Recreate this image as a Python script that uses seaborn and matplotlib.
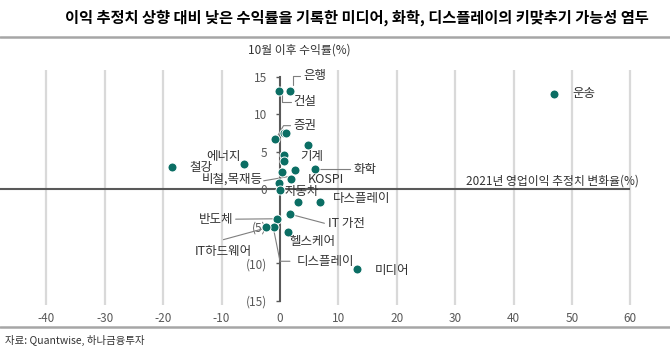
import matplotlib.pyplot as plt
import pandas as pd
import seaborn as sns

# point values: x = 2021 OP estimate change (%), y = return since Oct (%)
X_CHG = [-0.1, 1.7, -0.9, 0.6, 1.0, 4.8, 0.6, 0.6, -6.1, -18.5, 0.4, 2.6, 6.0,
         1.9, -0.1, 0.0, 3.1, 6.9, 1.7, -0.6, -1.1, -2.4, 1.4, 13.2, 47.0]
Y_RET = [13.15, 13.15, 6.7, 7.55, 7.55, 5.9, 4.6, 3.8, 3.4, 2.9, 2.3, 2.5, 2.7,
         1.4, 0.85, -0.2, -1.8, -1.7, -3.3, -4.0, -5.1, -5.1, -5.8, -10.8, 12.7]

LABELS = ["은행", "건설", "증권", "에너지", "철강", "비철,목재등", "기계", "화학", "KOSPI",
          "자동차", "다스플레이", "반도체", "IT 가전", "IT하드웨어", "헬스케어", "디스플레이",
          "미디어", "운송"]
# label anchor (x, y, ha)
LABEL_POS = [(4.0, 15.2, "left"), (2.3, 11.7, "left"), (2.3, 8.5, "left"),
             (-6.8, 4.4, "right"), (-15.6, 2.9, "left"), (-2.9, 1.3, "right"),
             (3.4, 4.3, "left"), (12.6, 2.6, "left"), (4.8, 1.3, "left"),
             (0.8, -0.4, "left"), (9.1, -1.3, "left"), (-7.9, -4.1, "right"),
             (8.3, -4.6, "left"), (-4.9, -8.4, "right"), (1.7, -7.1, "left"),
             (2.9, -9.7, "left"), (16.3, -10.9, "left"), (50.0, 12.8, "left")]
# leader lines
LEADERS = [[(2.3, 14.0), (2.3, 15.2), (3.4, 15.2)],
           [(0.3, 12.8), (0.3, 11.7), (1.8, 11.7)],
           [(-0.5, 7.0), (0.6, 8.5), (1.8, 8.5)],
           [(6.4, 2.7), (11.9, 2.7)],
           [(-2.8, 1.1), (1.7, 1.7)],
           [(-7.6, -4.05), (-0.8, -4.0)],
           [(2.3, -3.5), (7.6, -4.6)],
           [(-9.7, -6.8), (-2.7, -5.3)],
           [(-1.1, -5.4), (0.0, -9.7), (1.7, -9.7)]]

X_TICKS = [-40, -30, -20, -10, 0, 10, 20, 30, 40, 50, 60]
Y_TICKS = [15, 10, 5, 0, -5, -10, -15]
Y_TICK_LABELS = ["15", "10", "5", "0", "(5)", "(10)", "(15)"]

TITLE = "이익 추정치 상향 대비 낮은 수익률을 기록한 미디어, 화학, 디스플레이의 키맞추기 가능성 염두"
Y_TITLE = "10월 이후 수익률(%)"
X_TITLE = "2021년 영업이익 추정치 변화율(%)"
SOURCE = "자료: Quantwise, 하나금융투자"

sns.set_theme(style="white")
plt.rcParams["font.family"] = ["Noto Sans CJK KR", "DejaVu Sans"]

TEAL = "#0b6e64"
AXIS = "#595959"
GRID = "#d9d9d9"
TXT = "#333333"

df = pd.DataFrame({"chg": X_CHG, "ret": Y_RET})

fig = plt.figure(figsize=(6.7, 3.52), dpi=100)
ax = fig.add_axes([0, 1 - 305 / 352, 1, 235 / 352])

sns.scatterplot(data=df, x="chg", y="ret", color=TEAL, s=42,
                edgecolor="white", linewidth=0.7, zorder=4, ax=ax)

ax.set_xlim(-47.95, 66.78)
ax.set_ylim(-15.57, 15.97)

ax.set_xticks(X_TICKS)
ax.set_xticklabels([str(t) for t in X_TICKS])
for t in X_TICKS:
    if t != 0:
        ax.axvline(t, color=GRID, lw=1.6, zorder=0)
ax.tick_params(axis="x", length=0, pad=5, labelsize=8.5, labelcolor="#595959")

ax.spines["left"].set_position(("data", 0))
ax.spines["left"].set_bounds(-15, 15)
ax.spines["left"].set_color(AXIS)
ax.spines["left"].set_linewidth(1.5)
ax.set_yticks(Y_TICKS)
ax.set_yticklabels(Y_TICK_LABELS)
ax.tick_params(axis="y", left=True, length=3, width=1, color=AXIS, direction="out",
               pad=6.5, labelsize=8.5, labelcolor="#595959")
for side in ["top", "right", "bottom"]:
    ax.spines[side].set_visible(False)
ax.hlines(0, -48, 60, color=AXIS, lw=1.5, zorder=2)
ax.set_xlabel("")
ax.set_ylabel("")

for pts in LEADERS:
    ax.plot([p[0] for p in pts], [p[1] for p in pts], color="#7f7f7f", lw=0.8, zorder=3)

for name, (lx, ly, ha) in zip(LABELS, LABEL_POS):
    ax.text(lx, ly, name, ha=ha, va="center", fontsize=9, color=TXT, zorder=5)

ax.text(61.5, 0.25, X_TITLE, ha="right", va="bottom", fontsize=8.5, color=TXT)

fig.text(248 / 670, 1 - 50 / 352, Y_TITLE, ha="left", va="center", fontsize=8.5, color=TXT)
fig.text(357 / 670, 1 - 18 / 352, TITLE, ha="center", va="center", fontsize=11,
         fontweight="bold", color="black")
fig.add_artist(plt.Line2D([0, 1], [1 - 37 / 352, 1 - 37 / 352], color="#a6a6a6", lw=1.8))
fig.add_artist(plt.Line2D([0, 1], [1 - 327 / 352, 1 - 327 / 352], color="#a6a6a6", lw=1.8))
fig.text(5 / 670, 1 - 340 / 352, SOURCE, ha="left", va="center", fontsize=7.5, color=TXT)

fig.savefig("out.png", dpi=100)
